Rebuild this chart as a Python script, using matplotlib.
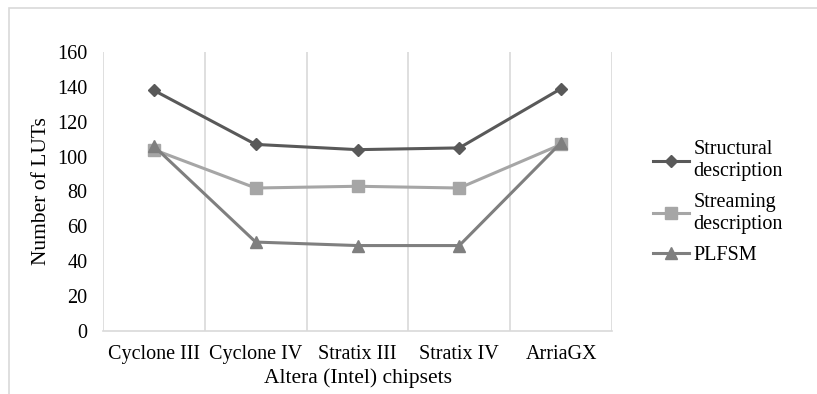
import matplotlib.pyplot as plt
from matplotlib.patches import Rectangle

chipsets = ["Cyclone III", "Cyclone IV", "Stratix III", "Stratix IV", "ArriaGX"]
structural = [138, 107, 104, 105, 139]
streaming = [104, 82, 83, 82, 107]
plfsm = [106, 51, 49, 49, 108]

plt.rcParams['font.family'] = ['Liberation Serif', 'DejaVu Serif']

fig = plt.figure(figsize=(8.17, 3.94), dpi=100)
# outer chart frame (cut off at right/bottom as in the original)
fig.patches.append(Rectangle((9 / 817, -0.1), 1.0, 1 - 8 / 394 + 0.1,
                             transform=fig.transFigure, fill=False,
                             edgecolor='#d9d9d9', linewidth=1.2))

ax = fig.add_axes([103 / 817, 1 - 331 / 394, (612 - 103) / 817, (331 - 52) / 394])

x = range(len(chipsets))
ax.plot(x, structural, color='#595959', marker='D', markersize=6, linewidth=2.2,
        label='Structural\ndescription')
ax.plot(x, streaming, color='#a6a6a6', marker='s', markersize=8, linewidth=2.2,
        label='Streaming\ndescription')
ax.plot(x, plfsm, color='#7f7f7f', marker='^', markersize=8, linewidth=2.2,
        label='PLFSM')

ax.set_xlim(-0.5, len(chipsets) - 0.5)
ax.set_ylim(0, 160)
ax.set_yticks(range(0, 161, 20))
ax.set_xticks(list(x))
ax.set_xticklabels(chipsets)
for b in [i - 0.5 for i in range(len(chipsets) + 1)]:
    ax.axvline(b, color='#d9d9d9', linewidth=1.2, zorder=0)

for s in ['top', 'right', 'left']:
    ax.spines[s].set_visible(False)
ax.spines['bottom'].set_color('#d9d9d9')
ax.spines['bottom'].set_linewidth(1.2)
ax.tick_params(length=0, labelsize=14.5, pad=10)
ax.tick_params(axis='y', pad=11)

ax.set_xlabel('Altera (Intel) chipsets', fontsize=15.5, labelpad=3)
ax.set_ylabel('Number of LUTs', fontsize=15.5, labelpad=5)

leg = ax.legend(loc='center left', bbox_to_anchor=(1.045, 0.46), frameon=False,
                fontsize=14.5, handlelength=1.8, handletextpad=0.2,
                labelspacing=0.6)

fig.savefig('out.png', dpi=100)
